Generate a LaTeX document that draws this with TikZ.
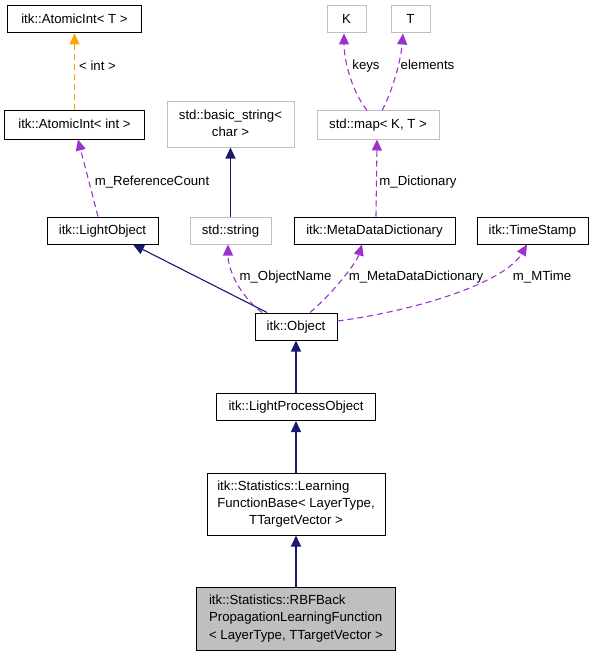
\documentclass[tikz,border=0pt]{standalone}
\usepackage{fontspec}
\setmainfont{Liberation Sans}
\usetikzlibrary{arrows.meta}
\definecolor{navyE}{HTML}{191970}
\definecolor{purpE}{HTML}{9A32CD}
\definecolor{orangeE}{HTML}{FFA500}
\definecolor{greyB}{HTML}{BFBFBF}
\newcommand{\dfont}{\fontsize{13.2bp}{17.3bp}\selectfont}
\tikzset{
  cls/.style={draw=black, line width=1bp, fill=white, inner sep=0pt, font=\dfont, text height=9.5bp, text depth=1.9bp, align=center},
  ext/.style={cls, draw=greyB},
  cur/.style={cls, fill=greyB},
  lbl/.style={font=\dfont, inner sep=1pt, text height=9.5bp, text depth=1.9bp},
  inh/.style={draw=navyE, line width=1.1bp, -{Triangle[length=11bp,width=10bp]}},
  use/.style={draw=purpE, line width=1.1bp, dash pattern=on 6bp off 4bp, -{Triangle[length=11bp,width=10bp]}},
  tpl/.style={draw=orangeE, line width=1.1bp, dash pattern=on 6bp off 4bp, -{Triangle[length=11bp,width=10bp]}}
}
\begin{document}
\begin{tikzpicture}[x=1bp,y=-1bp]
\useasboundingbox[fill=white] (0,0) rectangle (593,656);
% nodes
\node[cls, minimum width=133bp, minimum height=27bp] (atiT) at (74.5,19.5) {itk::AtomicInt< T >};
\node[cls, minimum width=139bp, minimum height=28bp] (atiI) at (74.5,125) {itk::AtomicInt< int >};
\node[ext, minimum width=127bp, minimum height=45bp, text height=, text depth=] (bstr) at (230.5,124.5) {\begin{tabular}{@{}c@{}}std::basic\_string<\\char >\end{tabular}};
\node[ext, minimum width=39bp, minimum height=27bp] (K) at (346.5,19.5) {K};
\node[ext, minimum width=39bp, minimum height=27bp] (T) at (410.5,19.5) {T};
\node[ext, minimum width=122bp, minimum height=28bp] (map) at (378,125) {std::map< K, T >};
\node[cls, minimum width=111bp, minimum height=27bp] (lobj) at (102.5,230.5) {itk::LightObject};
\node[ext, minimum width=81bp, minimum height=27bp] (str) at (230.5,230.5) {std::string};
\node[cls, minimum width=161bp, minimum height=27bp] (mdd) at (374.5,230.5) {itk::MetaDataDictionary};
\node[cls, minimum width=111bp, minimum height=27bp] (ts) at (532.5,230.5) {itk::TimeStamp};
\node[cls, minimum width=82bp, minimum height=27bp] (obj) at (296,326.5) {itk::Object};
\node[cls, minimum width=159bp, minimum height=27bp] (lpo) at (296,407) {itk::LightProcessObject};
\node[cls, minimum width=178bp, minimum height=62bp, text height=, text depth=] (lfb) at (296,504) {\begin{tabular}{@{}l@{}}itk::Statistics::Learning\\FunctionBase< LayerType,\\\multicolumn{1}{@{}c@{}}{TTargetVector >}\end{tabular}};
\node[cur, minimum width=199bp, minimum height=63bp, text height=, text depth=] (rbf) at (296,618.5) {\begin{tabular}{@{}l@{}}itk::Statistics::RBFBack\\PropagationLearningFunction\\< LayerType, TTargetVector >\end{tabular}};
% edges
\draw[tpl] (atiI) -- (atiT);
\node[lbl] (l1) at (97.5,67) {< int >};
\draw[use] ([xshift=-4.5bp]lobj.north) -- ([xshift=3.5bp]atiI.south);
\node[lbl] (l2) at (152,182) {m\_ReferenceCount};
\draw[inh] (str) -- (bstr);
\draw[inh] ([xshift=-29bp]obj.north) -- ([xshift=30.5bp]lobj.south);
\draw[use] ([xshift=-34bp]obj.north) .. controls (240,296) and (228,270) .. ([xshift=-2.5bp]str.south);
\node[lbl] (l3) at (285.5,277) {m\_ObjectName};
\draw[use] ([xshift=14bp]obj.north) .. controls (330,296) and (356,264) .. ([xshift=-12.5bp]mdd.south);
\node[lbl] (l4) at (416,277) {m\_MetaDataDictionary};
\draw[use] ([yshift=5.5bp]obj.east) .. controls (420,310) and (505,282) .. ([xshift=-5.5bp]ts.south);
\node[lbl] (l5) at (542,277) {m\_MTime};
\draw[use] ([xshift=1.5bp]mdd.north) -- ([xshift=-1bp]map.south);
\node[lbl] (l6) at (418,182) {m\_Dictionary};
\draw[use] ([xshift=-11bp]map.north) .. controls (350,88) and (344,58) .. ([xshift=-2.5bp]K.south);
\node[lbl] (l7) at (366,66) {keys};
\draw[use] ([xshift=4bp]map.north) .. controls (394,88) and (401,58) .. ([xshift=-7.5bp]T.south);
\node[lbl] (l8) at (427.5,66) {elements};
\draw[inh] (lpo) -- (obj);
\draw[inh] (lfb) -- (lpo);
\draw[inh] (rbf) -- (lfb);
\end{tikzpicture}
\end{document}
